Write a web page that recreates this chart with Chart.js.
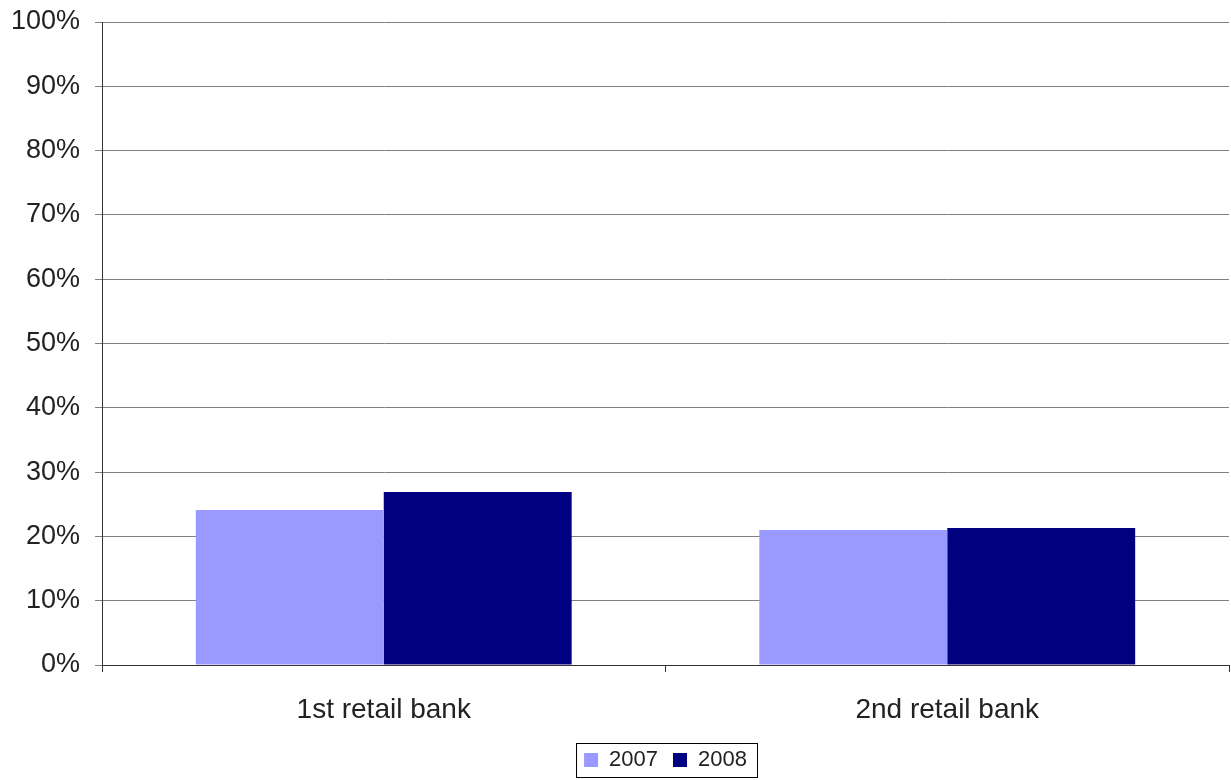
<!DOCTYPE html>
<html>
<head>
<meta charset="utf-8">
<script src="https://cdn.jsdelivr.net/npm/chart.js@4.4.1/dist/chart.umd.min.js"></script>
<style>
  html, body { margin: 0; padding: 0; background: #ffffff; }
  #wrap { width: 1231px; height: 780px; position: relative; }
</style>
</head>
<body>
<div id="wrap"><canvas id="c" width="1231" height="780"></canvas></div>
<script>
// Share values per bank, in percent
const categories = ['1st retail bank', '2nd retail bank'];
const share2007 = [24.1, 21.0];
const share2008 = [26.9, 21.3];
const yTickValues = [0, 10, 20, 30, 40, 50, 60, 70, 80, 90, 100];

const FONT = "'Liberation Sans', Arial, sans-serif";

// Centre the legend under the plot area and frame it
const legendFrame = {
  id: 'legendFrame',
  afterUpdate(chart) {
    const lg = chart.legend;
    if (!lg || !lg.legendHitBoxes) return;
    const oldMid = (lg.left + lg.right) / 2;
    lg.left = chart.chartArea.left;
    lg.right = chart.chartArea.right;
    lg.width = lg.right - lg.left;
    const shift = (lg.left + lg.right) / 2 - oldMid;
    lg.legendHitBoxes.forEach(h => { h.left += shift; });
  },
  afterDraw(chart) {
    const lg = chart.legend;
    if (!lg || !lg.legendHitBoxes || !lg.legendHitBoxes.length) return;
    const boxes = lg.legendHitBoxes;
    let l = Infinity, r = -Infinity, t = Infinity, b = -Infinity;
    boxes.forEach(h => {
      l = Math.min(l, h.left); r = Math.max(r, h.left + h.width);
      t = Math.min(t, h.top); b = Math.max(b, h.top + h.height);
    });
    const ctx = chart.ctx;
    ctx.save();
    ctx.strokeStyle = '#000000';
    ctx.lineWidth = 1;
    ctx.strokeRect(Math.round(l - 8) + 0.5, Math.round(t - 6) + 0.5,
                   Math.round(r - l + 18), Math.round(b - t + 12));
    ctx.restore();
  }
};

new Chart(document.getElementById('c'), {
  type: 'bar',
  data: {
    labels: categories,
    datasets: [
      { label: '2007', data: share2007, backgroundColor: '#9999ff', borderWidth: 0,
        categoryPercentage: 0.667, barPercentage: 1.0 },
      { label: '2008', data: share2008, backgroundColor: '#000080', borderWidth: 0,
        categoryPercentage: 0.667, barPercentage: 1.0 }
    ]
  },
  options: {
    responsive: false,
    animation: false,
    devicePixelRatio: 1,
    layout: { padding: { top: 22, right: 2, left: 0, bottom: -1 } },
    plugins: {
      legend: {
        position: 'bottom',
        labels: {
          boxWidth: 14, boxHeight: 14, padding: 15,
          color: '#222222',
          font: { family: FONT, size: 22 }
        }
      },
      tooltip: { enabled: false }
    },
    scales: {
      x: {
        offset: true,
        grid: { offset: true, drawOnChartArea: false, drawTicks: true, tickLength: 7,
                color: '#333333', lineWidth: 1 },
        border: { color: '#333333', width: 1 },
        ticks: { color: '#222222', font: { family: FONT, size: 28 }, padding: 21 },
        afterFit(s) { s.height = 69; s.paddingLeft = 0; s.paddingRight = 0; }
      },
      y: {
        min: 0, max: 100,
        afterBuildTicks(s) { s.ticks = yTickValues.map(v => ({ value: v })); },
        grid: { color: '#808080', lineWidth: 1, tickLength: 7, drawTicks: true },
        border: { color: '#333333', width: 1 },
        ticks: {
          color: '#222222', font: { family: FONT, size: 27 }, padding: 15,
          callback: v => v + '%'
        },
        afterFit(s) { s.width = 102; s.paddingTop = 0; s.paddingBottom = 0; }
      }
    }
  },
  plugins: [legendFrame]
});
</script>
</body>
</html>
